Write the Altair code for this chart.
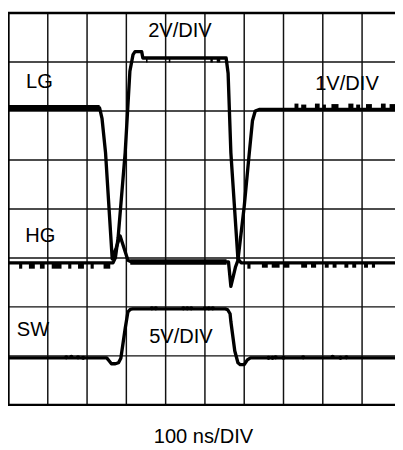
import altair as alt
import pandas as pd

# ---- data (time in ns, 100 ns/div; vertical position in screen divisions, 0 = bottom, 8 = top)
lg_t = [0, 232, 238, 247, 264, 274, 284, 294, 304, 312, 555, 560, 566, 572, 578, 584, 600, 613, 621, 628, 638, 1000]
lg_v = [6.06, 6.06, 5.85, 5.15, 2.98, 3.2, 3.45, 3.2, 2.95, 2.92, 2.92, 2.92, 2.42, 2.62, 2.82, 2.95, 4.05, 5.15, 5.8, 6.0, 6.03, 6.03]

hg_t = [0, 266, 272, 279, 297, 309, 317, 322, 339, 342, 554, 559, 566, 584, 592, 1000]
hg_v = [2.9, 2.9, 3.0, 3.41, 5.15, 6.81, 7.15, 7.21, 7.21, 7.08, 7.08, 6.77, 5.15, 2.98, 2.9, 2.9]

sw_t = [0, 250, 256, 262, 272, 280, 286, 297, 304, 310, 316, 552, 558, 564, 566, 576, 584, 590, 600, 608, 616, 1000]
sw_v = [0.96, 0.96, 0.9, 0.84, 0.84, 0.86, 0.95, 1.56, 1.9, 1.95, 1.96, 1.96, 1.94, 1.86, 1.7, 1.1, 0.86, 0.82, 0.82, 0.92, 0.96, 0.96]

# noise ticks on the traces: start ns, end ns, low div, high div
tick_t1 = [0, 27, 52, 80, 110, 152, 177, 209, 242, 310, 608, 645, 670, 700, 745, 770, 805, 825, 855, 875, 905, 925, 350, 408, 514, 530, 728, 745, 780, 800, 822, 865, 885, 910, 948, 970]
tick_t2 = [232, 35, 67, 92, 135, 160, 192, 217, 259, 555, 616, 660, 690, 715, 760, 783, 815, 835, 865, 885, 915, 933, 354, 412, 520, 539, 738, 758, 792, 808, 840, 878, 895, 925, 960, 995]
tick_v1 = [6.00, 2.78, 2.78, 2.78, 2.78, 2.78, 2.78, 2.78, 2.78, 2.86, 2.78, 2.80, 2.80, 2.80, 2.80, 2.80, 2.80, 2.80, 2.80, 2.80, 2.80, 2.80, 6.99, 6.99, 6.99, 6.99, 6.03, 6.03, 6.03, 6.03, 6.03, 6.03, 6.03, 6.03, 6.03, 6.03]
tick_v2 = [6.12, 2.90, 2.90, 2.90, 2.90, 2.90, 2.90, 2.90, 2.90, 2.97, 2.90, 2.90, 2.90, 2.90, 2.90, 2.90, 2.90, 2.90, 2.90, 2.90, 2.90, 2.90, 7.08, 7.08, 7.08, 7.08, 6.15, 6.13, 6.15, 6.13, 6.14, 6.15, 6.13, 6.14, 6.15, 6.14]

# small blips on the SW trace
blip_t = [147, 160, 177, 190, 365, 375, 445, 455, 465, 500, 510, 520, 662, 672, 680, 700, 750, 825, 845, 860]
blip_v = [0.97, 0.98, 0.97, 0.96, 1.97, 1.97, 1.97, 1.97, 1.97, 1.97, 1.97, 1.97, 0.96, 0.96, 0.97, 0.96, 0.97, 0.98, 0.96, 0.97]

grid_t = [100, 200, 300, 400, 500, 600, 700, 800, 900]
grid_v = [1, 2, 3, 4, 5, 6, 7]
border_t = [0, 1000]
border_v = [0, 8]

labels = ["2V/DIV", "LG", "1V/DIV", "HG", "SW", "5V/DIV", "100 ns/DIV"]

# ---- build tables
rows = []
for name, ts, vs in [("LG", lg_t, lg_v), ("HG", hg_t, hg_v), ("SW", sw_t, sw_v)]:
    for i, (t, v) in enumerate(zip(ts, vs)):
        rows.append({"trace": name, "i": i, "t": t, "v": v})
traces = pd.DataFrame(rows)
ticks = pd.DataFrame({"t1": tick_t1, "t2": tick_t2, "v1": tick_v1, "v2": tick_v2})
blips = pd.DataFrame({"t": blip_t, "v": blip_v})

W, H = 395, 442
xs = alt.Scale(domain=[-1.25, 983.8], nice=False, zero=False)
ys = alt.Scale(domain=[-0.83, 8.01], nice=False, zero=False)
X = lambda f: alt.X(f, type="quantitative", scale=xs, axis=None)
Y = lambda f: alt.Y(f, type="quantitative", scale=ys, axis=None)

vgrid = alt.Chart(pd.DataFrame({"t": grid_t})).mark_rule(color="#111", strokeWidth=1.5).encode(
    x=X("t"), y=alt.value(0.5), y2=alt.value(400.5))
hgrid = alt.Chart(pd.DataFrame({"v": grid_v})).mark_rule(color="#111", strokeWidth=1.5).encode(
    y=Y("v"), x=alt.value(0), x2=alt.value(W))
vborder = alt.Chart(pd.DataFrame({"t": border_t})).mark_rule(color="#000", strokeWidth=2.4).encode(
    x=X("t"), y=alt.value(0.5), y2=alt.value(400.5))
hborder = alt.Chart(pd.DataFrame({"v": border_v})).mark_rule(color="#000", strokeWidth=2.4).encode(
    y=Y("v"), x=alt.value(0), x2=alt.value(W))

lines = alt.Chart(traces).mark_line(color="#000", strokeWidth=3.4, strokeJoin="round").encode(
    x=X("t"), y=Y("v"), detail="trace:N", order="i:Q")
tickmarks = alt.Chart(ticks).mark_rect(color="#000").encode(
    x=X("t1"), x2="t2", y=Y("v1"), y2="v2")
blipmarks = alt.Chart(blips).mark_circle(color="#000", size=18, opacity=1).encode(
    x=X("t"), y=Y("v"))

pos = [(183.5, 33), (40, 85), (354, 87), (41, 242), (33.5, 338), (184.5, 345), (207.5, 447)]
texts = []
for s, (px, py) in zip(labels, pos):
    texts.append(alt.Chart(pd.DataFrame({"s": [s]})).mark_text(
        font="Liberation Sans", fontSize=20.5, color="#000", align="center", baseline="alphabetic").encode(
        text="s:N", x=alt.value(px - 8), y=alt.value(py - 8)))

chart = alt.layer(vgrid, hgrid, vborder, hborder, tickmarks, lines, blipmarks, *texts).properties(
    width=W, height=H, autosize=alt.AutoSizeParams(type="none"), padding=0
).configure_view(stroke=None)

chart.save("out.html", embed_options={"renderer": "svg", "actions": False})
